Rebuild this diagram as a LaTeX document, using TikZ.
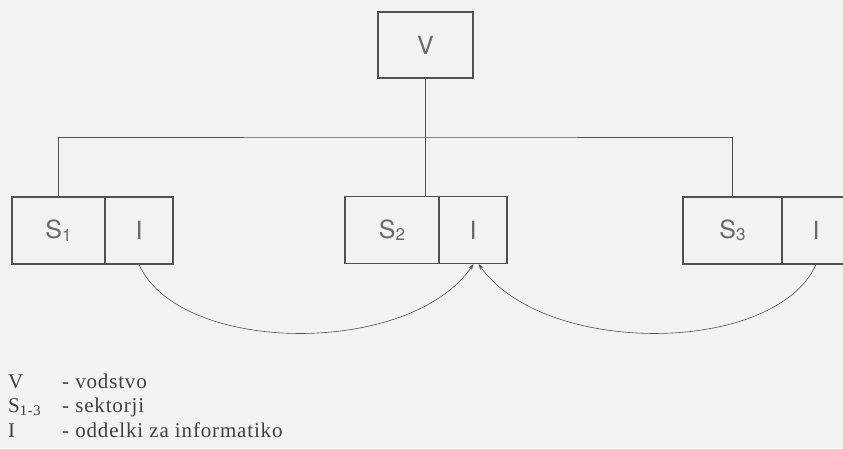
\documentclass[tikz,border=0pt]{standalone}
\usepackage{fontspec}
\setmainfont{Liberation Serif}
\newfontfamily\legfont[LetterSpace=4]{Liberation Serif}
\newfontfamily\boxfont{TeX Gyre Heros}
\usetikzlibrary{arrows.meta}
\definecolor{paper}{RGB}{242,243,240}
\definecolor{ink}{RGB}{80,80,80}
\definecolor{txt}{RGB}{105,105,105}
\newcommand{\sub}[1]{\raisebox{-2.5pt}{\fontsize{17}{17}\selectfont #1}}
\begin{document}
\begin{tikzpicture}[x=1pt,y=-1pt,
  unit/.style={draw=ink,line width=1.2pt,rectangle,minimum height=67pt,inner sep=0pt,
    font=\boxfont\fontsize{25}{27}\selectfont,text=txt},
  conn/.style={draw=ink,line width=0.8pt},
  arc/.style={draw=ink,line width=0.6pt,-{Stealth[length=6pt,width=4pt]}},
  legend/.style={anchor=base west,inner sep=0pt,font=\legfont\fontsize{21}{23}\selectfont,text=black!75}]
\fill[paper] (0,0) rectangle (843,448);
\useasboundingbox (0,0) rectangle (843,448);
% top
\node[unit,minimum width=95pt,minimum height=66pt] (V) at (425.5,45) {V};
% sectors
\node[unit,minimum width=93pt] (S1) at (58.5,230.5) {S\sub{1}};
\node[unit,minimum width=68pt] (I1) at (139,230.5) {I};
\node[unit,minimum width=94pt] (S2) at (392,230) {S\sub{2}};
\node[unit,minimum width=68pt] (I2) at (473,230) {I};
\node[unit,minimum width=99pt] (S3) at (732.5,230.5) {S\sub{3}};
\node[unit,minimum width=68pt] (I3) at (816,230.5) {I};
\coordinate (bus) at (425.5,137);
% connectors
\draw[conn] (V.south) -- (bus);
\draw[conn] (S1.north) |- (bus) -| (S3.north);
\draw[conn] (bus) -- (bus |- S2.north);
% arcs
\coordinate (t1) at (473.5,264);
\coordinate (t2) at (478.5,264);
\draw[arc] (I1.south) .. controls (180,355) and (410,357) .. (t1);
\draw[arc] (I3.south) .. controls (775,355) and (545,357) .. (t2);
% legend
\node[legend] (l1a) at (8,388) {V};
\node[legend] (l1b) at (62,388) {- vodstvo};
\node[legend] (l2a) at (8,412) {S\textsubscript{1-3}};
\node[legend] (l2b) at (62,412) {- sektorji};
\node[legend] (l3a) at (8,437) {I};
\node[legend] (l3b) at (62,437) {- oddelki za informatiko};
\end{tikzpicture}
\end{document}
